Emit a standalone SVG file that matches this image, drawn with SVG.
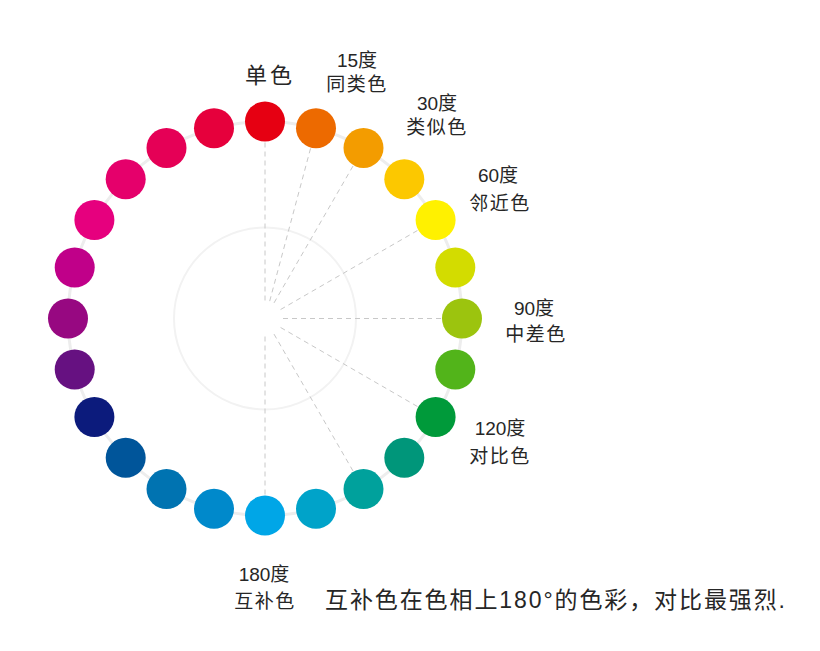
<svg xmlns="http://www.w3.org/2000/svg" width="820" height="651" viewBox="0 0 820 651">
<style>
.lbl{font-family:"Liberation Sans","Noto Sans CJK SC",sans-serif;font-size:19px;fill:#262626;text-anchor:middle;letter-spacing:1.5px}
.num{letter-spacing:0}
.big{font-size:22px;letter-spacing:3px}
.note{font-family:"Liberation Sans","Noto Sans CJK SC",sans-serif;font-size:23px;fill:#262626}
.dash{stroke:#c8c8c8;stroke-width:1;stroke-dasharray:5 4;fill:none}
</style>
<rect width="820" height="651" fill="#ffffff"/>
<g id="rings">
<circle cx="265" cy="318.5" r="197" fill="none" stroke="#ededed" stroke-width="3"/>
<circle cx="265" cy="318.5" r="91" fill="none" stroke="#f2f2f2" stroke-width="2"/>
</g>
<g id="connectors">
<line class="dash" x1="265" y1="300.5" x2="265" y2="141.5"/>
<line class="dash" x1="269.7" y1="301.1" x2="310.8" y2="147.5"/>
<line class="dash" x1="274" y1="302.9" x2="353.5" y2="165.2"/>
<line class="dash" x1="280.6" y1="309.5" x2="418.3" y2="230"/>
<line class="dash" x1="283" y1="318.5" x2="442" y2="318.5"/>
<line class="dash" x1="280.6" y1="327.5" x2="418.3" y2="407"/>
<line class="dash" x1="274" y1="334.1" x2="353.5" y2="471.8"/>
<line class="dash" x1="265" y1="336.5" x2="265" y2="495.5"/>
</g>
<g id="hues">
<circle id="h0" cx="265" cy="121.5" r="20" fill="#e60012"/>
<circle id="h15" cx="316" cy="128.2" r="20" fill="#ed6a00"/>
<circle id="h30" cx="363.5" cy="147.9" r="20" fill="#f39c00"/>
<circle id="h45" cx="404.3" cy="179.2" r="20" fill="#fcc800"/>
<circle id="h60" cx="435.6" cy="220" r="20" fill="#fff100"/>
<circle id="h75" cx="455.3" cy="267.5" r="20" fill="#d3dc00"/>
<circle id="h90" cx="462" cy="318.5" r="20" fill="#9cc40e"/>
<circle id="h105" cx="455.3" cy="369.5" r="20" fill="#52b41a"/>
<circle id="h120" cx="435.6" cy="417" r="20" fill="#009a3a"/>
<circle id="h135" cx="404.3" cy="457.8" r="20" fill="#00967a"/>
<circle id="h150" cx="363.5" cy="489.1" r="20" fill="#00a19c"/>
<circle id="h165" cx="316" cy="508.8" r="20" fill="#00a3c9"/>
<circle id="h180" cx="265" cy="515.5" r="20" fill="#00a6e7"/>
<circle id="h195" cx="214" cy="508.8" r="20" fill="#0089cb"/>
<circle id="h210" cx="166.5" cy="489.1" r="20" fill="#0073b1"/>
<circle id="h225" cx="125.7" cy="457.8" r="20" fill="#00559a"/>
<circle id="h240" cx="94.4" cy="417" r="20" fill="#0c1b7c"/>
<circle id="h255" cx="74.7" cy="369.5" r="20" fill="#661181"/>
<circle id="h270" cx="68" cy="318.5" r="20" fill="#970881"/>
<circle id="h285" cx="74.7" cy="267.5" r="20" fill="#c00089"/>
<circle id="h300" cx="94.4" cy="220" r="20" fill="#e6007e"/>
<circle id="h315" cx="125.7" cy="179.2" r="20" fill="#e5006b"/>
<circle id="h330" cx="166.5" cy="147.9" r="20" fill="#e50056"/>
<circle id="h345" cx="214" cy="128.2" r="20" fill="#e6003c"/>
</g>
<g id="labels">
<text class="lbl big" x="270" y="83">单色</text>
<text class="lbl num" x="357" y="67">15度</text>
<text class="lbl" x="357" y="91">同类色</text>
<text class="lbl num" x="437" y="110">30度</text>
<text class="lbl" x="437" y="134">类似色</text>
<text class="lbl num" x="498" y="182">60度</text>
<text class="lbl" x="500" y="210">邻近色</text>
<text class="lbl num" x="534" y="315">90度</text>
<text class="lbl" x="536" y="341">中差色</text>
<text class="lbl num" x="500" y="435">120度</text>
<text class="lbl" x="500" y="463">对比色</text>
<text class="lbl num" x="264" y="581">180度</text>
<text class="lbl" x="265" y="608">互补色</text>
<text class="note" x="325" y="608" textLength="460" lengthAdjust="spacing">互补色在色相上180°的色彩，对比最强烈.</text>
</g>
</svg>
